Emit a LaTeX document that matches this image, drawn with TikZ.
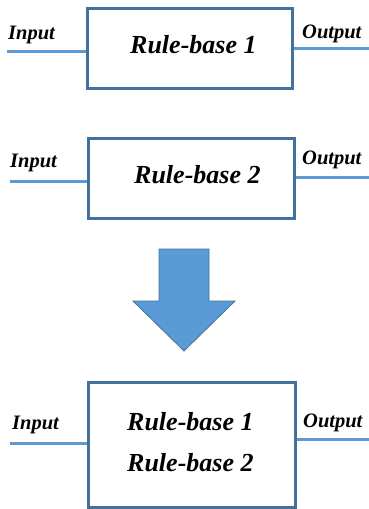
\documentclass[tikz,border=0pt]{standalone}
\usepackage{fontspec}
\setmainfont{Liberation Serif}
\definecolor{boxblue}{HTML}{41719C}
\definecolor{lineblue}{HTML}{5B9BD5}
\begin{document}
\begin{tikzpicture}[x=1pt,y=-1pt,
  rbox/.style={draw=boxblue,line width=3pt,fill=white,inner sep=0pt},
  conn/.style={draw=lineblue,line width=3pt},
  io/.style={anchor=base west,inner sep=0pt,font=\fontsize{20.5}{22}\selectfont\bfseries\itshape},
  rb/.style={anchor=base west,inner sep=0pt,font=\fontsize{26}{28}\selectfont\bfseries\itshape}]
\useasboundingbox (0,0) rectangle (369,509);
% box 1
\node[rbox,minimum width=205pt,minimum height=80pt] (b1) at (189.5,48) {};
\node[rb] (t1) at (130,53) {Rule-base 1};
\node[io] (i1) at (8,39) {Input};
\node[io] (o1) at (302,38) {Output};
\coordinate (ci1) at (7,51);
\coordinate (co1) at (369,48);
\draw[conn] (ci1) -- (ci1 -| b1.west);
\draw[conn] (co1 -| b1.east) -- (co1);
% box 2
\node[rbox,minimum width=206pt,minimum height=80pt] (b2) at (191,178) {};
\node[rb] (t2) at (134,183) {Rule-base 2};
\node[io] (i2) at (10,167) {Input};
\node[io] (o2) at (302,164) {Output};
\coordinate (ci2) at (10,181);
\coordinate (co2) at (369,177);
\draw[conn] (ci2) -- (ci2 -| b2.west);
\draw[conn] (co2 -| b2.east) -- (co2);
% arrow
\draw[draw=boxblue,fill=lineblue,line width=0.8pt,line join=miter]
  (159,249) -- (209,249) -- (209,301) -- (235,301) -- (184,351) -- (133,301) -- (159,301) -- cycle;
% box 3
\node[rbox,minimum width=207pt,minimum height=125pt] (b3) at (191.5,444.5) {};
\node[rb] (t3) at (127,430) {Rule-base 1};
\node[rb] (t4) at (127,471) {Rule-base 2};
\node[io] (i3) at (12,429) {Input};
\node[io] (o3) at (303,427) {Output};
\coordinate (ci3) at (10,443);
\coordinate (co3) at (369,439);
\draw[conn] (ci3) -- (ci3 -| b3.west);
\draw[conn] (co3 -| b3.east) -- (co3);
\end{tikzpicture}
\end{document}
